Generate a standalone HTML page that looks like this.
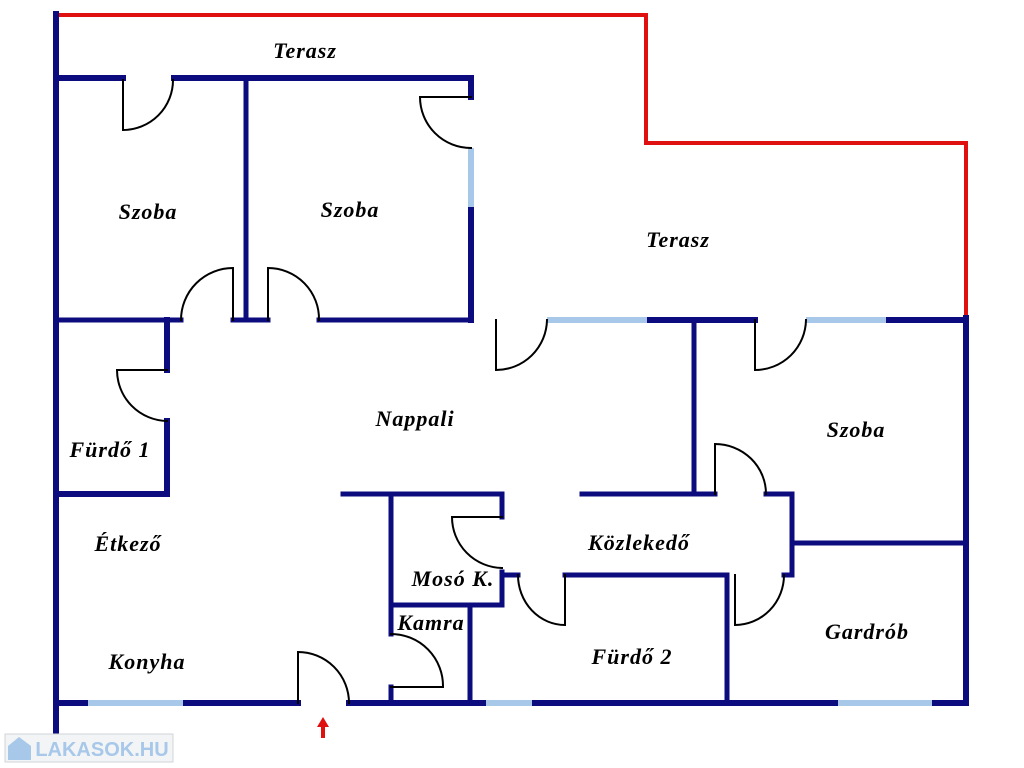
<!DOCTYPE html>
<html><head><meta charset="utf-8"><style>
html,body{margin:0;padding:0;background:#fff;width:1024px;height:768px;overflow:hidden}
svg{display:block}
text{font-family:"Liberation Serif",serif;font-style:italic;font-weight:bold;font-size:22px;letter-spacing:1px;fill:#000;text-anchor:middle}
</style></head><body>
<svg width="1024" height="768" viewBox="0 0 1024 768">
<g fill="none" stroke-linecap="square">
<polyline points="56,15 646,15 646,143 966,143 966,318" stroke="#e01010" stroke-width="4"/>
<g stroke="#0c0c7e" stroke-width="6">
<line x1="56" y1="14" x2="56" y2="736"/>
<polyline points="56,78 123,78"/>
<polyline points="174,78 471,78 471,97"/>
<line x1="471" y1="207" x2="471" y2="320"/>
<line x1="246" y1="78" x2="246" y2="320" stroke-width="5"/>
<line x1="56" y1="320" x2="181" y2="320" stroke-width="5"/>
<line x1="233" y1="320" x2="268" y2="320" stroke-width="5"/>
<line x1="319" y1="320" x2="471" y2="320" stroke-width="5"/>
<line x1="647" y1="320" x2="755" y2="320"/>
<line x1="886" y1="320" x2="966" y2="320"/>
<line x1="966" y1="318" x2="966" y2="703"/>
<line x1="694" y1="320" x2="694" y2="494" stroke-width="5"/>
<polyline points="167,320 167,370"/>
<polyline points="167,421 167,494 56,494"/>
<polyline points="343,494 502,494 502,517" stroke-width="5"/>
<polyline points="502,572 502,605 391,605" stroke-width="5"/>
<polyline points="391,494 391,634" stroke-width="5"/>
<line x1="391" y1="687" x2="391" y2="703" stroke-width="5"/>
<line x1="470" y1="605" x2="470" y2="703" stroke-width="5"/>
<line x1="502" y1="575" x2="518" y2="575" stroke-width="5"/>
<polyline points="565,575 727,575 727,703" stroke-width="5"/>
<polyline points="582,494 715,494" stroke-width="5"/>
<polyline points="766,494 792,494 792,575 784,575" stroke-width="5"/>
<line x1="792" y1="543" x2="966" y2="543" stroke-width="5"/>
<line x1="56" y1="703" x2="88" y2="703"/>
<line x1="183" y1="703" x2="298" y2="703"/>
<line x1="349" y1="703" x2="486" y2="703"/>
<line x1="532" y1="703" x2="838" y2="703"/>
<line x1="932" y1="703" x2="966" y2="703"/>
</g>
<g stroke="#a8c8ea" stroke-width="6" stroke-linecap="butt">
<line x1="471" y1="148" x2="471" y2="207"/>
<line x1="547" y1="320" x2="647" y2="320"/>
<line x1="806" y1="320" x2="886" y2="320"/>
<line x1="88" y1="703" x2="183" y2="703"/>
<line x1="486" y1="703" x2="532" y2="703"/>
<line x1="838" y1="703" x2="932" y2="703"/>
</g>
<g stroke="#000" stroke-width="2">
<path d="M123,80 V130 A50,50 0 0 0 173,80"/>
<path d="M471,97 H420 A51,51 0 0 0 471,148"/>
<path d="M233,320 V268 A52,52 0 0 0 181,320"/>
<path d="M268,320 V268 A51,51 0 0 1 319,320"/>
<path d="M496,320 V370 A51,51 0 0 0 547,320"/>
<path d="M755,320 V370 A51,51 0 0 0 806,320"/>
<path d="M167,370 H117 A51,51 0 0 0 167,421"/>
<path d="M502,517 H452 A51,51 0 0 0 502,568"/>
<path d="M391,634 A52,52 0 0 1 443,687 H391"/>
<path d="M565,575 V625 A47,50 0 0 1 518,575"/>
<path d="M735,575 V625 A49,50 0 0 0 784,575"/>
<path d="M715,494 V444 A51,50 0 0 1 766,494"/>
<path d="M298,703 V652 A51,51 0 0 1 349,703"/>
</g>
</g>
<path d="M323,717 L317,727 H321 V738 H325 V727 H329 Z" fill="#e01010"/>
<rect x="5" y="734" width="168" height="28" fill="#f2f4f6" stroke="#d0d4d8"/>
<path d="M8,746 L19,737 L31,746 V760 H8 Z" fill="#a8c8ea"/>
<text x="102" y="756" style="font-family:'Liberation Sans',sans-serif;font-style:normal;font-size:20px;letter-spacing:0;fill:#a8c8ea">LAKASOK.HU</text>
<text x="305" y="58">Terasz</text>
<text x="148" y="219">Szoba</text>
<text x="350" y="217">Szoba</text>
<text x="678" y="247">Terasz</text>
<text x="415" y="426">Nappali</text>
<text x="856" y="437">Szoba</text>
<text x="110" y="457">Fürdő 1</text>
<text x="128" y="551">Étkező</text>
<text x="639" y="550">Közlekedő</text>
<text x="453" y="586">Mosó K.</text>
<text x="431" y="630">Kamra</text>
<text x="147" y="669">Konyha</text>
<text x="632" y="664">Fürdő 2</text>
<text x="867" y="639">Gardrób</text>
</svg>
</body></html>
